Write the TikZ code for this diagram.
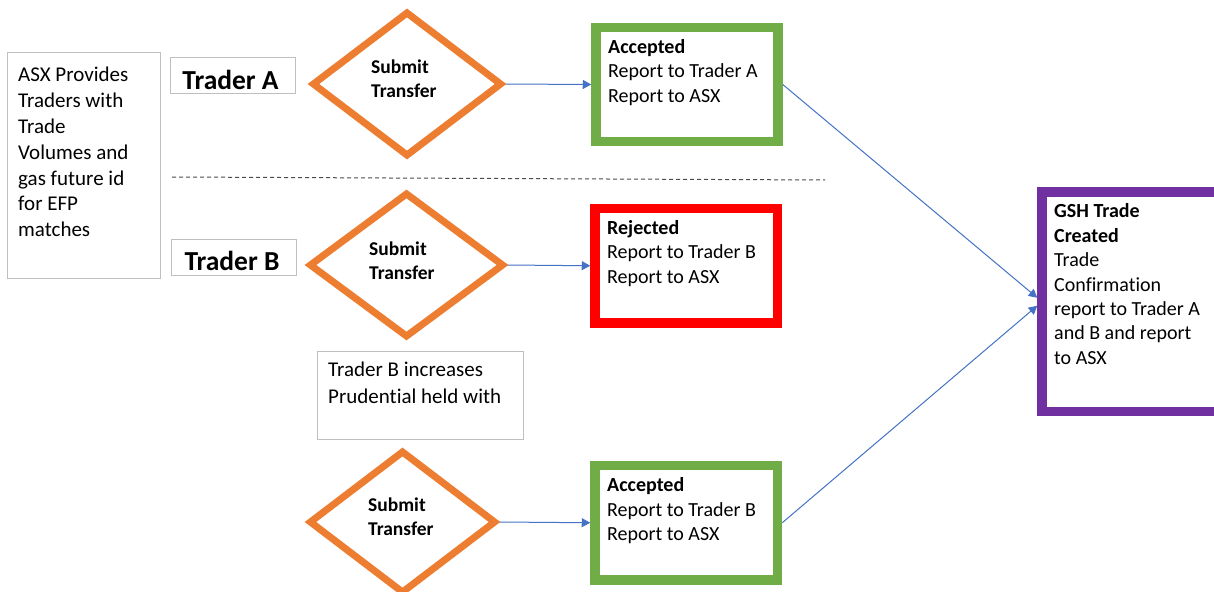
\documentclass[tikz,border=0pt]{standalone}
\usepackage{fontspec}
\setmainfont{Carlito}[Ligatures=NoCommon]
\usetikzlibrary{shapes.geometric,arrows.meta}
\definecolor{cOrange}{HTML}{ED7D31}
\definecolor{cGreen}{HTML}{70AD47}
\definecolor{cRed}{HTML}{FF0000}
\definecolor{cPurple}{HTML}{7030A0}
\definecolor{cBlue}{HTML}{4472C4}
\definecolor{cGray}{HTML}{BFBFBF}
\begin{document}
\begin{tikzpicture}[x=1pt,y=-1pt,
  decision/.style={shape=diamond, draw=cOrange, line width=7pt, inner sep=0pt},
  statusbox/.style={shape=rectangle, draw=#1, line width=9.5pt, inner sep=0pt},
  plainbox/.style={shape=rectangle, draw=cGray, line width=1pt, inner sep=0pt},
  txt/.style={inner sep=0pt, anchor=north west, align=left, font=\fontsize{20}{24.5}\selectfont},
  dtxt/.style={inner sep=0pt, anchor=north west, align=left, font=\fontsize{19.5}{24}\selectfont\bfseries},
  trader/.style={inner sep=0pt, anchor=base, font=\fontsize{27.5}{32}\selectfont\bfseries},
  conn/.style={draw=cBlue, line width=1pt, -{Triangle[length=8.5pt,width=9pt]}},
  divider/.style={draw=black!70, line width=1pt, dash pattern=on 4pt off 3pt}
]
\path[fill=white, use as bounding box] (0,0) rectangle (1214,591);

% left info box
\node[plainbox, minimum width=153pt, minimum height=225pt] (info) at (83.5,165.5) {};
\node[txt, font=\fontsize{21}{25.8}\selectfont] (infot) at (18,63.6)
  {\strut ASX Provides\\Traders with\\Trade\\Volumes and\\gas future id\\for EFP\\matches};

% trader labels
\node[plainbox, minimum width=125pt, minimum height=36pt] (tabox) at (232.5,76) {};
\node[trader] (ta) at (230.5,90) {Trader A};
\node[plainbox, minimum width=125pt, minimum height=36pt] (tbbox) at (233.5,257) {};
\node[trader] (tb) at (232,270) {Trader B};

% dashed divider
\coordinate (dl) at (172,177);
\coordinate (dr) at (825,180);
\draw[divider] (dl) -- (dr);

% decisions
\node[decision, minimum width=190pt, minimum height=145pt] (d1) at (407,84) {};
\node[dtxt] (d1t) at (371,56.5) {\strut Submit\\Transfer};
\node[decision, minimum width=195pt, minimum height=145pt] (d2) at (406.5,265) {};
\node[dtxt] (d2t) at (369,238.2) {\strut Submit\\Transfer};
\node[decision, minimum width=187pt, minimum height=143pt] (d3) at (402.5,522) {};
\node[dtxt] (d3t) at (368,494.9) {\strut Submit\\Transfer};

% prudential note
\node[plainbox, minimum width=206pt, minimum height=88pt] (pru) at (420,395) {};
\node[txt, font=\fontsize{21}{26.6}\selectfont] (prut) at (328,358.1)
  {\strut Trader B increases\\Prudential held with};

% status boxes
\node[statusbox=cGreen, minimum width=182pt, minimum height=114pt] (g1) at (687,84.5) {};
\node[txt] (g1t) at (608,35.85) {\strut\textbf{Accepted}\\Report to Trader A\\Report to ASX};
\node[statusbox=cRed, minimum width=182.5pt, minimum height=114.5pt] (r2) at (686.25,265.75) {};
\node[txt] (r2t) at (607,216.85) {\strut\textbf{Rejected}\\Report to Trader B\\Report to ASX};
\node[statusbox=cGreen, minimum width=182.5pt, minimum height=114.5pt] (g3) at (686.25,522.75) {};
\node[txt] (g3t) at (607,474.55) {\strut\textbf{Accepted}\\Report to Trader B\\Report to ASX};

% GSH trade box
\node[statusbox=cPurple, minimum width=180pt, minimum height=219.5pt] (gsh) at (1132,301.75) {};
\node[txt, font=\fontsize{20}{24.4}\selectfont] (gsht) at (1054,200.6)
  {\strut\textbf{GSH Trade}\\\textbf{Created}\\Trade\\Confirmation\\report to Trader A\\and B and report\\to ASX};

% connectors
\draw[conn] (d1.east) -- (g1.west);
\draw[conn] (d2.east) -- (r2.west);
\draw[conn] (d3.east) -- (g3.west);
\draw[conn] (g1.east) -- ([yshift=4pt]gsh.west);
\draw[conn] (g3.east) -- ([yshift=-4pt]gsh.west);
\end{tikzpicture}
\end{document}
